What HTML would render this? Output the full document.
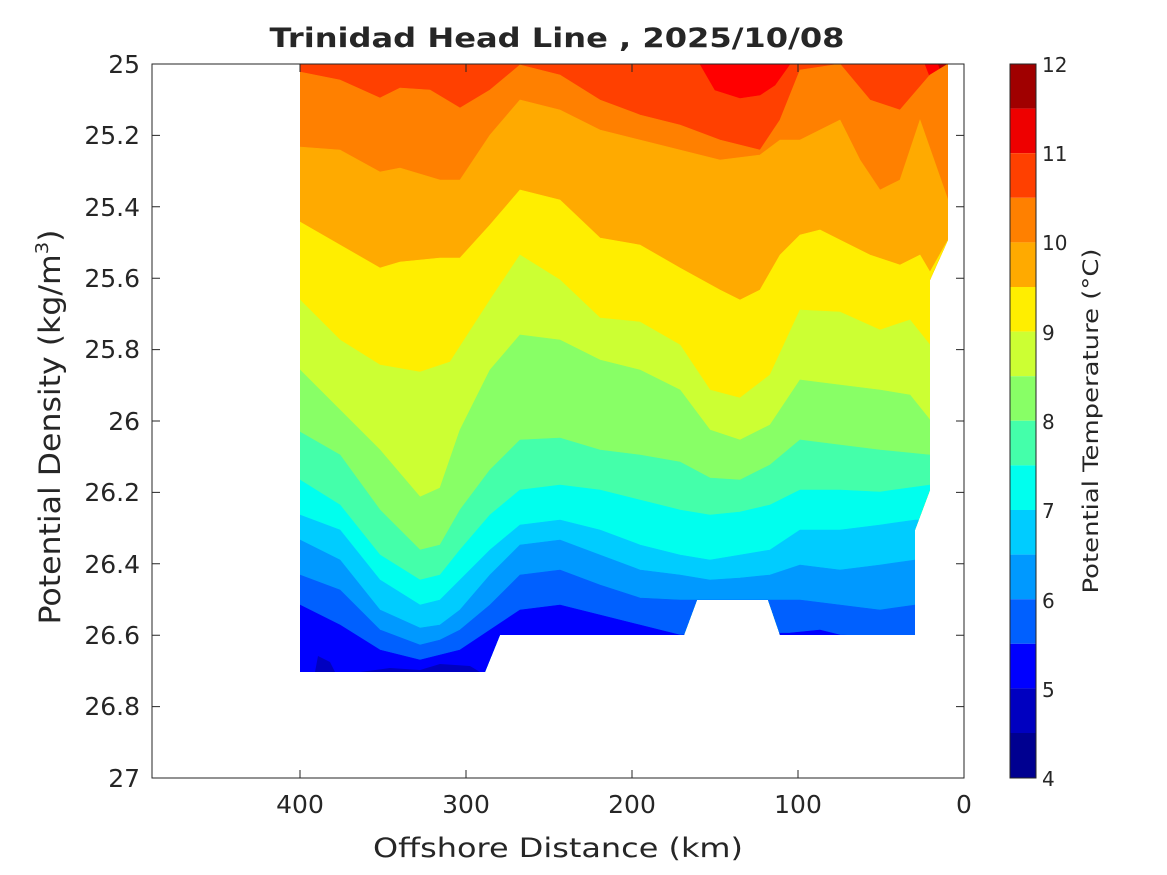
<!DOCTYPE html>
<html><head><style>body{margin:0;background:#fff}svg{display:block}text{font-family:"DejaVu Sans","Liberation Sans",sans-serif;fill:#262626}</style></head>
<body>
<svg width="1167" height="875" viewBox="0 0 1167 875" xmlns="http://www.w3.org/2000/svg">
<defs><clipPath id="d"><polygon points="300,64 948,64 948,240 930,280 930,490 915,530 915,635 780,635 768,600 697,600 684,635 500,635 485,672 300,672"/></clipPath></defs>
<rect width="1167" height="875" fill="#fff"/>
<g clip-path="url(#d)" stroke-width="0.6">
<rect x="290" y="60" width="680" height="620" fill="#ff4000"/>
<polygon fill="#ff0000" stroke="#ff0000" points="700,64 790,64 775,85 760,95 740,98 715,90"/>
<polygon fill="#ff0000" stroke="#ff0000" points="925,64 948,64 948,150 940,130 935,90"/>
<polygon fill="#bf0000" points="938,64 948,64 948,95"/>
<polygon fill="#ff8000" stroke="#ff8000" points="300,72 340,80 380,98 400,88 430,90 460,108 490,90 520,65 560,75 600,100 640,115 680,125 720,140 760,150 780,120 800,70 840,64 870,100 900,110 930,75 948,64 960,700 290,700"/>
<polygon fill="#ffaa00" stroke="#ffaa00" points="300,147 340,150 380,172 400,168 440,180 460,180 490,135 520,100 560,110 600,130 640,140 680,150 720,160 760,155 780,140 800,140 820,130 840,120 860,160 880,190 900,180 920,120 948,200 960,700 290,700"/>
<polygon fill="#ffee00" stroke="#ffee00" points="300,222 340,245 380,268 400,262 440,258 460,258 490,225 520,190 560,200 600,238 640,245 680,268 720,290 740,300 760,290 780,255 800,235 820,230 840,240 870,255 900,265 920,255 930,272 948,240 960,700 290,700"/>
<polygon fill="#ccff33" stroke="#ccff33" points="300,300 340,340 380,365 420,372 450,362 490,300 520,255 560,280 600,318 640,322 680,345 710,390 740,398 770,375 800,310 840,312 880,330 910,320 930,345 960,345 960,700 290,700"/>
<polygon fill="#88ff66" stroke="#88ff66" points="300,370 340,410 380,450 420,497 440,488 460,430 490,370 520,335 560,340 600,360 640,370 680,390 710,430 740,440 770,425 800,380 840,385 880,390 910,395 930,420 960,420 960,700 290,700"/>
<polygon fill="#44ffaa" stroke="#44ffaa" points="300,432 340,455 380,510 420,550 440,545 460,510 490,470 520,440 560,438 600,450 640,455 680,462 710,478 740,480 770,465 800,440 840,445 880,450 930,455 960,455 960,700 290,700"/>
<polygon fill="#00ffee" stroke="#00ffee" points="300,480 340,505 380,555 420,580 440,575 460,550 490,515 520,490 560,485 600,490 640,500 680,510 710,515 740,512 770,505 800,490 840,490 880,492 930,485 960,485 960,700 290,700"/>
<polygon fill="#00ccff" stroke="#00ccff" points="300,515 340,530 380,580 420,605 440,600 460,580 490,550 520,525 560,520 600,530 640,545 680,555 710,560 740,555 770,550 800,530 840,530 880,525 915,520 960,520 960,700 290,700"/>
<polygon fill="#0099ff" stroke="#0099ff" points="300,540 340,560 380,610 420,628 440,625 460,610 490,575 520,545 560,540 600,555 640,570 680,575 710,580 740,578 770,575 800,565 840,570 880,565 915,560 960,560 960,700 290,700"/>
<polygon fill="#0060ff" stroke="#0060ff" points="300,575 340,590 380,630 420,645 440,640 460,630 490,605 520,575 560,570 600,585 640,598 680,600 720,600 780,600 800,600 840,605 880,610 915,605 960,605 960,700 290,700"/>
<polygon fill="#0000ff" stroke="#0000ff" points="300,605 340,625 380,650 420,660 460,650 490,630 520,610 560,605 600,615 640,625 680,635 790,633 820,630 840,635 960,640 960,700 290,700"/>
<polygon fill="#0000c0" points="315,672 318,656 330,662 335,672"/>
<polygon fill="#0000c0" points="360,672 390,668 420,670 440,664 470,666 480,672"/>
</g>
<rect x="152" y="64" width="812" height="714" fill="none" stroke="#262626" stroke-width="1"/>
<g stroke="#262626" stroke-width="1">
<path d="M152,64h8M152,135.4h8M152,206.8h8M152,278.2h8M152,349.6h8M152,421h8M152,492.4h8M152,563.8h8M152,635.2h8M152,706.6h8M964,64h-8M964,135.4h-8M964,206.8h-8M964,278.2h-8M964,349.6h-8M964,421h-8M964,492.4h-8M964,563.8h-8M964,635.2h-8M964,706.6h-8"/>
<path d="M300,778v-8M466,778v-8M632,778v-8M798,778v-8M964,778v-8M300,64v8M466,64v8M632,64v8M798,64v8"/>
</g>
<g font-size="25" text-anchor="end">
<text x="140" y="73">25</text><text x="140" y="144">25.2</text><text x="140" y="216">25.4</text><text x="140" y="287">25.6</text><text x="140" y="358">25.8</text><text x="140" y="430">26</text><text x="140" y="501">26.2</text><text x="140" y="573">26.4</text><text x="140" y="644">26.6</text><text x="140" y="715">26.8</text><text x="140" y="787">27</text>
</g>
<g font-size="25" text-anchor="middle">
<text x="300" y="813">400</text><text x="466" y="813">300</text><text x="632" y="813">200</text><text x="798" y="813">100</text><text x="964" y="813">0</text>
<text x="558" y="857" font-size="27" textLength="370" lengthAdjust="spacingAndGlyphs">Offshore Distance (km)</text>
<text x="557" y="47" font-size="27" font-weight="bold" fill="#000" textLength="575" lengthAdjust="spacingAndGlyphs">Trinidad Head Line , 2025/10/08</text>
<text transform="translate(60,427) rotate(-90)" font-size="29" textLength="395" lengthAdjust="spacingAndGlyphs">Potential Density (kg/m<tspan font-size="18" dy="-12">3</tspan><tspan dy="12">)</tspan></text>
</g>
<g>
<rect x="1010" y="64" width="26" height="44.6" fill="#a00000"/>
<rect x="1010" y="108.6" width="26" height="44.6" fill="#ee0000"/>
<rect x="1010" y="153.2" width="26" height="44.6" fill="#ff4000"/>
<rect x="1010" y="197.8" width="26" height="44.6" fill="#ff8000"/>
<rect x="1010" y="242.4" width="26" height="44.6" fill="#ffaa00"/>
<rect x="1010" y="287" width="26" height="44.6" fill="#ffee00"/>
<rect x="1010" y="331.6" width="26" height="44.6" fill="#ccff33"/>
<rect x="1010" y="376.2" width="26" height="44.6" fill="#88ff66"/>
<rect x="1010" y="420.8" width="26" height="44.6" fill="#44ffaa"/>
<rect x="1010" y="465.4" width="26" height="44.6" fill="#00ffee"/>
<rect x="1010" y="510" width="26" height="44.6" fill="#00ccff"/>
<rect x="1010" y="554.6" width="26" height="44.6" fill="#0099ff"/>
<rect x="1010" y="599.2" width="26" height="44.6" fill="#0060ff"/>
<rect x="1010" y="643.8" width="26" height="44.6" fill="#0000ff"/>
<rect x="1010" y="688.4" width="26" height="44.6" fill="#0000c0"/>
<rect x="1010" y="733" width="26" height="45" fill="#000090"/>
<rect x="1010" y="64" width="26" height="714" fill="none" stroke="#262626"/>
</g>
<g font-size="20">
<text x="1042" y="72">12</text><text x="1042" y="161">11</text><text x="1042" y="250">10</text><text x="1042" y="340">9</text><text x="1042" y="429">8</text><text x="1042" y="518">7</text><text x="1042" y="608">6</text><text x="1042" y="697">5</text><text x="1042" y="786">4</text>
<text transform="translate(1098,421) rotate(-90)" text-anchor="middle" font-size="21" textLength="345" lengthAdjust="spacingAndGlyphs">Potential Temperature (°C)</text>
</g>
</svg>
</body></html>
